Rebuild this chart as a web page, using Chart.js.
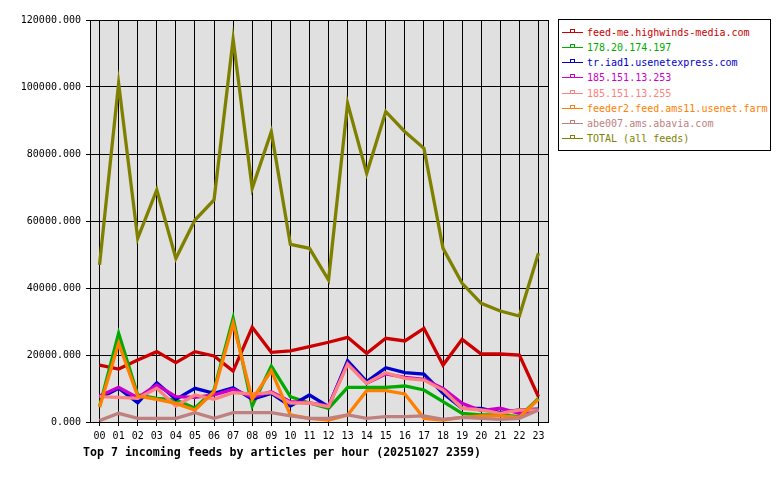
<!DOCTYPE html>
<html>
<head>
<meta charset="utf-8">
<script src="https://cdn.jsdelivr.net/npm/chart.js@4/dist/chart.umd.min.js"></script>
<style>
  html, body { margin: 0; padding: 0; background: #ffffff; }
  #wrap { position: relative; width: 780px; height: 480px; overflow: hidden; }
  canvas { position: absolute; left: 0; top: 0; }
  #legend { position: absolute; left: 558px; top: 19px; width: 211px; height: 130px; border: 1px solid #000; background: #fff; box-sizing: content-box; }
  .entry { position: absolute; left: 0; height: 14px; width: 211px; font-family: "DejaVu Sans Mono", monospace; font-size: 10px; line-height: 14px; white-space: nowrap; }
  .entry .ln { position: absolute; left: 3px; top: 6px; width: 21px; height: 1px; }
  .entry .mk { position: absolute; left: 11px; top: 3px; width: 3px; height: 3px; border: 1px solid; border-bottom: none; background: transparent; }
  .entry .tx { position: absolute; left: 28px; top: 0; }
  #title { position: absolute; left: 83px; top: 445px; font-family: "DejaVu Sans Mono", monospace; font-weight: bold; font-size: 11.6px; color: #000; white-space: nowrap; }
</style>
</head>
<body>
<div id="wrap">
  <canvas id="c" width="780" height="480"></canvas>
  <div id="legend"></div>
  <div id="title">Top 7 incoming feeds by articles per hour (20251027 2359)</div>
</div>
<script>
const hours = ['00','01','02','03','04','05','06','07','08','09','10','11','12','13','14','15','16','17','18','19','20','21','22','23'];
const yTicks = [0, 20000, 40000, 60000, 80000, 100000, 120000];

const feedNames = ['feed-me.highwinds-media.com','178.20.174.197','tr.iad1.usenetexpress.com','185.151.13.253','185.151.13.255','feeder2.feed.ams11.usenet.farm','abe007.ams.abavia.com','TOTAL (all feeds)'];
const feedColors = ['#cc0000','#00aa00','#0000cc','#cc00cc','#ff8080','#ff8000','#c08080','#808000'];

const highwinds = [17000,15800,18500,21000,17700,21000,19700,15200,28270,20800,21200,22480,23800,25280,20500,24980,24180,27960,17000,24680,20300,20300,20000,7550];
const ip178 = [4570,26470,8060,7070,6570,4090,9550,30950,4780,16700,7550,5670,4090,10360,10360,10360,10750,9550,6060,2600,2090,2090,1600,7070];
const usenetexpress = [7070,10060,5760,11730,6770,10060,8560,10240,6770,8560,4780,8060,4570,18300,12030,16210,14720,14330,8560,4090,4090,2780,3580,3800];
const ip253 = [7760,10360,7250,11040,7550,7360,8060,9750,7360,9050,6060,5670,4780,17510,11550,14330,13330,12730,10060,5570,3380,4090,2600,3580];
const ip255 = [7550,7360,7070,10060,4780,8060,6770,8760,8360,8760,5670,5670,4570,17220,11550,14720,13040,12540,9550,4090,3580,2600,3580,3580];
const ams11 = [4390,23490,7760,6770,5570,3580,9050,29460,6770,15310,2090,1100,600,2090,9350,9350,8360,1100,600,1400,1800,1800,1400,6770];
const abavia = [400,2600,1100,1100,1100,2780,1100,2780,2780,2780,1800,1100,1100,2090,1100,1600,1600,1800,800,1400,1100,800,1100,3580];
const total = [46900,101100,54800,69250,48860,60300,66270,114240,69750,86660,53040,51840,42390,95130,74230,92630,86660,81690,51840,41400,35430,33130,31640,50350];

const seriesValues = [highwinds, ip178, usenetexpress, ip253, ip255, ams11, abavia, total];

// legend
const legend = document.getElementById('legend');
feedNames.forEach((name, i) => {
  const e = document.createElement('div');
  e.className = 'entry';
  e.style.top = (6 + i * 15.15) + 'px';
  e.style.color = feedColors[i];
  e.innerHTML = '<span class="ln" style="background:' + feedColors[i] + '"></span>' +
                '<span class="mk" style="border-color:' + feedColors[i] + '"></span>' +
                '<span class="tx"></span>';
  e.querySelector('.tx').textContent = name;
  legend.appendChild(e);
});

const plotBg = {
  id: 'plotBg',
  beforeDraw(chart) {
    const a = chart.chartArea, ctx = chart.ctx;
    ctx.save();
    ctx.fillStyle = '#e0e0e0';
    ctx.fillRect(a.left, a.top, a.right - a.left, a.bottom - a.top);
    ctx.restore();
  },
  afterDraw(chart) {
    const a = chart.chartArea, ctx = chart.ctx;
    ctx.save();
    ctx.strokeStyle = '#000';
    ctx.lineWidth = 1;
    ctx.strokeRect(Math.round(a.left) + 0.5, Math.round(a.top) + 0.5, Math.round(a.right - a.left), Math.round(a.bottom - a.top));
    ctx.restore();
  }
};

new Chart(document.getElementById('c'), {
  type: 'line',
  data: {
    labels: hours,
    datasets: seriesValues.map((vals, i) => ({
      label: feedNames[i],
      data: vals,
      borderColor: feedColors[i],
      backgroundColor: feedColors[i],
      borderWidth: 3.3,
      pointRadius: 0,
      tension: 0,
      fill: false,
      order: 7 - i
    }))
  },
  options: {
    responsive: false,
    animation: false,
    devicePixelRatio: 1,
    layout: { padding: { top: 20, right: 232, bottom: 0, left: 0 } },
    plugins: { legend: { display: false }, tooltip: { enabled: false }, title: { display: false } },
    scales: {
      x: {
        type: 'category',
        offset: true,
        afterFit(s) { s.height = 58; },
        grid: { color: '#000', lineWidth: 1, tickLength: 4, drawTicks: true, offset: false },
        border: { display: true, color: '#000', width: 1 },
        ticks: { color: '#000', font: { family: 'DejaVu Sans Mono', size: 10 }, padding: 4, maxRotation: 0, autoSkip: false }
      },
      y: {
        min: 0,
        max: 120000,
        afterFit(s) { s.width = 90; },
        afterBuildTicks(s) { s.ticks = yTicks.map(v => ({ value: v })); },
        grid: { color: '#000', lineWidth: 1, tickLength: 4, drawTicks: true },
        border: { display: true, color: '#000', width: 1 },
        ticks: { color: '#000', font: { family: 'DejaVu Sans Mono', size: 10 }, padding: 5, callback: v => Number(v).toFixed(3) }
      }
    }
  },
  plugins: [plotBg]
});
</script>
</body>
</html>
